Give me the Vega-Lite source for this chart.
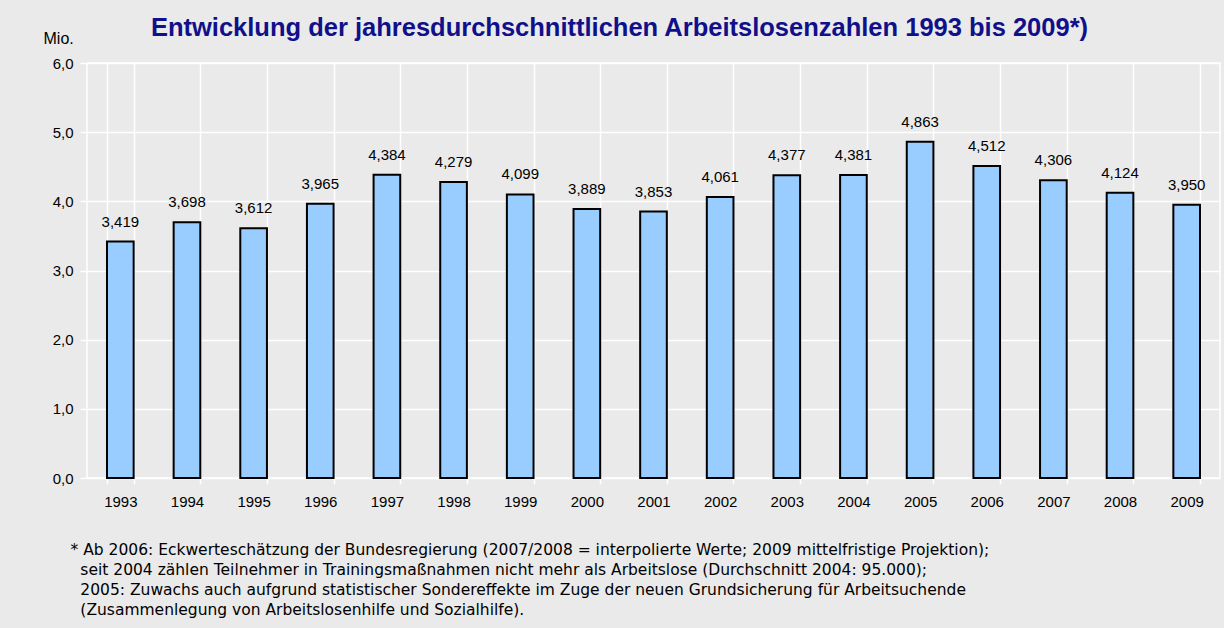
{
  "$schema": "https://vega.github.io/schema/vega-lite/v6.json",
  "width": 1133,
  "height": 415,
  "autosize": {"type": "none"},
  "padding": {"left": 87, "top": 63, "right": 4, "bottom": 150},
  "background": "#eaeaea",
  "title": {
    "text": "Entwicklung der jahresdurchschnittlichen Arbeitslosenzahlen 1993 bis 2009*)",
    "anchor": "middle",
    "dx": -34,
    "dy": 31,
    "offset": 20,
    "fontSize": 25.5,
    "font": "Liberation Sans",
    "fontWeight": "bold",
    "color": "#10108a"
  },
  "config": {
    "locale": {"number": {"decimal": ",", "thousands": ".", "grouping": [3], "currency": ["", " €"]}},
    "view": {"stroke": "white", "strokeWidth": 1.5, "fill": "#eaeaea"},
    "font": "Liberation Sans"
  },
  "data": {
    "values": [
      {"year": "1993", "value": 3.419},
      {"year": "1994", "value": 3.698},
      {"year": "1995", "value": 3.612},
      {"year": "1996", "value": 3.965},
      {"year": "1997", "value": 4.384},
      {"year": "1998", "value": 4.279},
      {"year": "1999", "value": 4.099},
      {"year": "2000", "value": 3.889},
      {"year": "2001", "value": 3.853},
      {"year": "2002", "value": 4.061},
      {"year": "2003", "value": 4.377},
      {"year": "2004", "value": 4.381},
      {"year": "2005", "value": 4.863},
      {"year": "2006", "value": 4.512},
      {"year": "2007", "value": 4.306},
      {"year": "2008", "value": 4.124},
      {"year": "2009", "value": 3.950}
    ]
  },
  "encoding": {
    "x": {
      "field": "year",
      "type": "nominal",
      "sort": null,
      "scale": {"paddingInner": 0.6, "paddingOuter": 0.3},
      "axis": {
        "title": [
          "* Ab 2006: Eckwerteschätzung der Bundesregierung (2007/2008 = interpolierte Werte; 2009 mittelfristige Projektion);",
          "\u200b\u00a0\u00a0seit 2004 zählen Teilnehmer in Trainingsmaßnahmen nicht mehr als Arbeitslose (Durchschnitt 2004: 95.000);",
          "\u200b\u00a0\u00a02005: Zuwachs auch aufgrund statistischer  Sondereffekte im Zuge der neuen Grundsicherung für Arbeitsuchende",
          "\u200b\u00a0\u00a0(Zusammenlegung von Arbeitslosenhilfe und Sozialhilfe)."
        ],
        "titleAnchor": "start",
        "titleAlign": "left",
        "titleX": -17,
        "titleY": 76,
        "titleBaseline": "alphabetic",
        "titleFont": "DejaVu Sans",
        "titleFontSize": 15.5,
        "titleFontWeight": "normal",
        "titleLineHeight": 20.3,
        "titleColor": "#000000",
        "labelAngle": 0,
        "labelFontSize": 15,
        "labelColor": "#000000",
        "labelPadding": 10,
        "tickColor": "white",
        "tickSize": 6,
        "tickWidth": 1.5,
        "tickBand": "extent",
        "grid": true,
        "gridColor": "white",
        "gridWidth": 1.5,
        "domain": false
      }
    },
    "y": {
      "field": "value",
      "type": "quantitative",
      "scale": {"domain": [0, 6]},
      "axis": {
        "title": "Mio.",
        "titleAngle": 0,
        "titleAlign": "left",
        "titleX": -44,
        "titleY": -20,
        "titleBaseline": "alphabetic",
        "titleFontSize": 16,
        "titleFontWeight": "normal",
        "titleColor": "#000000",
        "values": [0, 1, 2, 3, 4, 5, 6],
        "format": ".1f",
        "labelFontSize": 15,
        "labelColor": "#000000",
        "labelPadding": 7,
        "tickColor": "white",
        "tickSize": 7,
        "tickWidth": 1.5,
        "gridColor": "white",
        "gridWidth": 1.5,
        "domain": false
      }
    }
  },
  "layer": [
    {
      "mark": {"type": "bar", "fill": "#99ccff", "stroke": "#000000", "strokeWidth": 2}
    },
    {
      "mark": {"type": "text", "baseline": "alphabetic", "dy": -15, "fontSize": 15, "color": "#000000"},
      "encoding": {"text": {"field": "value", "type": "quantitative", "format": ".3f"}}
    }
  ]
}
